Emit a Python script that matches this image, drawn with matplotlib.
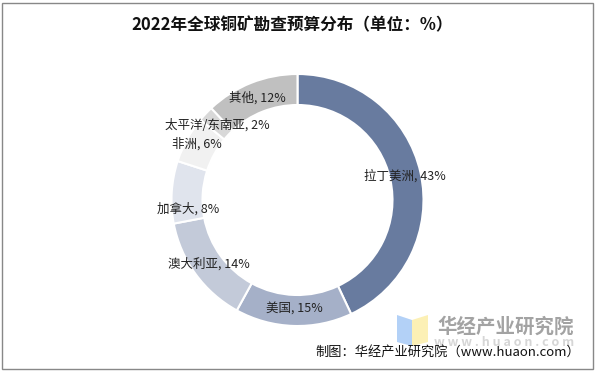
import numpy as np
import matplotlib.pyplot as plt
from matplotlib.patches import Rectangle, Polygon

plt.rcParams['font.family'] = ['Noto Sans CJK SC', 'DejaVu Sans']

# data
regions = ['拉丁美洲', '美国', '澳大利亚', '加拿大', '非洲', '太平洋/东南亚', '其他']
shares = [43, 15, 14, 8, 6, 2, 12]
colors = ['#687b9f', '#a5b0c8', '#c3cad9', '#e0e4ed', '#f1f1f1', '#d8d8d8', '#c0c0c0']

# label nudges (pixels) where the source chart moved a label off the ring centre
nudge = {'加拿大': (0, -16), '非洲': (-5, 3)}

W, H = 596, 371
fig = plt.figure(figsize=(W / 100, H / 100), dpi=100)
ax = fig.add_axes([0, 0, 1, 1])

cx, cy, R = 297.5, H - 200, 126
wedges, _ = ax.pie(shares, colors=colors, startangle=90, counterclock=False,
                   center=(cx, cy), radius=R,
                   wedgeprops=dict(width=31, edgecolor='white', linewidth=1.5))
ax.set_xlim(0, W)
ax.set_ylim(0, H)
ax.set_aspect('auto')
ax.axis('off')

# labels in the ring
for w, name, v in zip(wedges, regions, shares):
    ang = np.deg2rad((w.theta1 + w.theta2) / 2)
    r = R * 0.87
    dx, dy = nudge.get(name, (0, 0))
    ax.text(cx + r * np.cos(ang) + dx, cy + r * np.sin(ang) + dy, f'{name}, {v}%',
            ha='center', va='center', fontsize=9, color='#222222')

ax.text(292.5, H - 25, '2022年全球铜矿勘查预算分布（单位：%）', ha='center', va='center',
        fontsize=12, fontweight='bold', color='#111111')

# watermark
ax.add_patch(Polygon([(397, H - 315), (412, H - 320), (412, H - 346), (397, H - 342)],
                     closed=True, color='#b3d1f7', lw=0))
ax.add_patch(Polygon([(412, H - 320), (428, H - 315), (428, H - 342), (412, H - 346)],
                     closed=True, color='#fcf0b5', lw=0))
ax.text(506, H - 327, '华经产业研究院', ha='center', va='center', fontsize=14,
        fontweight='bold', color='#a3a3a3')
ax.text(504, H - 343, 'w w w . h u a o n . c o m', ha='center', va='center', fontsize=9,
        fontweight='bold', color='#d6d6d6')

ax.text(580, H - 352, '制图：华经产业研究院（www.huaon.com）', ha='right', va='center',
        fontsize=9.5, color='#111111')

ax.add_patch(Rectangle((2, 2), W - 5, H - 5, fill=False, edgecolor='#888888', lw=1))

fig.savefig('out.png', dpi=100)
